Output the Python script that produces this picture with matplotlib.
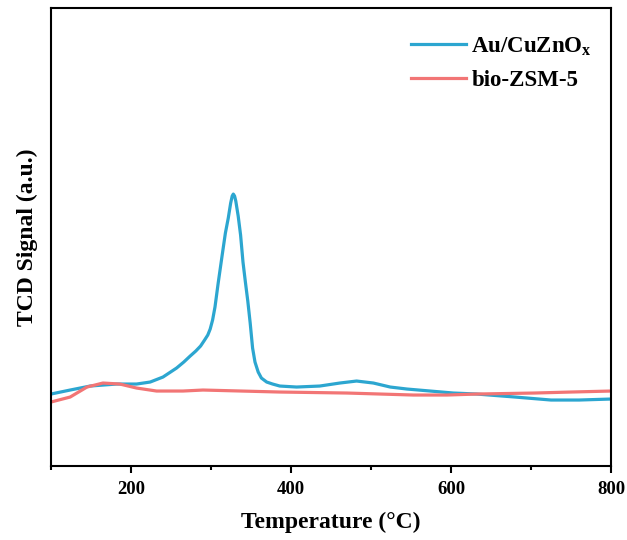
import numpy as np
import matplotlib
matplotlib.use('Agg')
import matplotlib.pyplot as plt
from matplotlib.ticker import MultipleLocator

plt.rcParams['font.family'] = 'Liberation Serif'
plt.rcParams['font.weight'] = 'bold'
plt.rcParams['mathtext.fontset'] = 'custom'
plt.rcParams['mathtext.rm'] = 'Liberation Serif:bold'
plt.rcParams['mathtext.bf'] = 'Liberation Serif:bold'

# Au/CuZnOx TCD trace (signal in arbitrary units)
au_temp = [100, 124, 149, 182, 207, 224, 240, 257, 266, 274, 281, 287, 292, 296, 299,
           302, 305, 309, 314, 318, 321.6, 324.6, 326.5, 327.9, 329.5, 331, 334, 337,
           340, 343, 346, 349, 352, 355, 359, 363, 369.6, 377,
           386, 407, 436, 461, 482, 503, 524, 545, 574, 603, 632, 680, 725, 760, 800]
au_sig = [72, 76, 80, 82, 82, 84, 89, 98, 104, 110, 115, 120, 126, 131, 137,
          146, 159, 183, 211, 233, 248, 263, 270, 272, 270, 265, 250, 231,
          204, 184, 165, 143, 118, 104, 94, 88, 84, 82,
          80, 79, 80, 83, 85, 83, 79, 77, 75, 73, 72, 69, 66, 66, 67]

# bio-ZSM-5 TCD trace
zsm_temp = [100, 124, 145, 165, 186, 207, 232, 265, 290, 386, 470, 553, 595, 632, 704, 750, 800]
zsm_sig = [64, 69, 79, 83, 82, 78, 75, 75, 76, 74, 73, 71, 71, 72, 73, 74, 75]

fig = plt.figure(figsize=(6.27, 5.4), dpi=100)
ax = fig.add_axes([0.0813, 0.137, 0.8932, 0.848])

ax.plot(au_temp, au_sig, color='#2ca6d0', lw=2.3, label=r'Au/CuZnO$_\mathbf{x}$')
ax.plot(zsm_temp, zsm_sig, color='#f27575', lw=2.3, label='bio-ZSM-5')

ax.set_xlim(100, 800)
ax.set_ylim(0, 458)
ax.xaxis.set_major_locator(MultipleLocator(200))
ax.xaxis.set_minor_locator(MultipleLocator(100))
ax.set_yticks([])
ax.tick_params(axis='x', which='major', direction='out', length=5, width=1.5, labelsize=13.5, pad=6)
ax.tick_params(axis='x', which='minor', direction='out', length=3, width=1.5)
for s in ax.spines.values():
    s.set_linewidth(1.5)

ax.set_xlabel('Temperature (°C)', fontsize=17, fontweight='bold', labelpad=10)
ax.set_ylabel('TCD Signal (a.u.)', fontsize=17, fontweight='bold', labelpad=9)

ax.legend(loc='upper right', bbox_to_anchor=(1.007, 0.991), frameon=False, fontsize=16.5,
          handlelength=2.4, handletextpad=0.25, labelspacing=0.5, borderaxespad=0.6)

fig.savefig('out.png', dpi=100)
